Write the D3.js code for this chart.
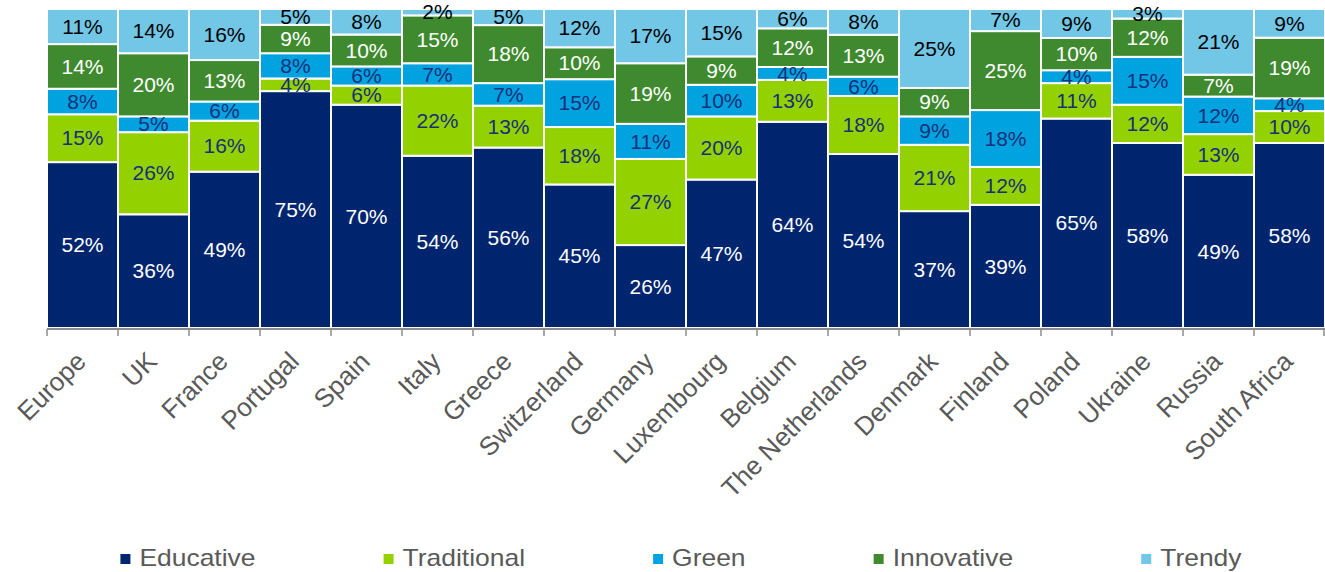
<!DOCTYPE html>
<html><head><meta charset="utf-8">
<script src="https://cdn.jsdelivr.net/npm/d3@7"></script>
<style>body{margin:0;background:#fff}svg{display:block;font-family:"Liberation Sans",Arial,sans-serif}</style>
</head><body><svg id="c" width="1325" height="572"></svg>
<script>
const categories = ["Europe","UK","France","Portugal","Spain","Italy","Greece","Switzerland","Germany","Luxembourg","Belgium","The Netherlands","Denmark","Finland","Poland","Ukraine","Russia","South Africa"];
const seriesNames = ["Educative","Traditional","Green","Innovative","Trendy"];
const educative   = [52,36,49,75,70,54,56,45,26,47,64,54,37,39,65,58,49,58];
const traditional = [15,26,16,4,6,22,13,18,27,20,13,18,21,12,11,12,13,10];
const green       = [8,5,6,8,6,7,7,15,11,10,4,6,9,18,4,15,12,4];
const innovative  = [14,20,13,9,10,15,18,10,19,9,12,13,9,25,10,12,7,19];
const trendy      = [11,14,16,5,8,2,5,12,17,15,6,8,25,7,9,3,21,9];
const colors      = ["#00256f","#94d100","#00a2df","#3f8a2f","#72c6e6"];
const labelColors = ["#ffffff","#16307a","#16307a","#ffffff","#000000"];

const seriesVals = [educative,traditional,green,innovative,trendy];
const rows = categories.map((c,i)=>{const o={cat:c}; seriesNames.forEach((s,j)=>o[s]=seriesVals[j][i]); return o;});
const stack = d3.stack().keys(seriesNames).offset(d3.stackOffsetExpand)(rows);

const svg = d3.select("#c");
const x = d3.scaleBand().domain(categories).range([47,1325]).padding(0);
const y = d3.scaleLinear().domain([0,1]).range([328,9]);
const SX = 1.15; // horizontal stretch seen in the reference legend text

const g = svg.append("g");
stack.forEach((layer,j)=>{
  g.append("g").selectAll("rect").data(layer).join("rect")
    .attr("x",d=>x(d.data.cat)).attr("width",x.bandwidth())
    .attr("y",d=>y(d[1])).attr("height",d=>y(d[0])-y(d[1]))
    .attr("fill",colors[j]).attr("stroke","#fff").attr("stroke-width",2);
});
stack.forEach((layer,j)=>{
  g.append("g").selectAll("text").data(layer).join("text")
    .attr("transform",d=>`translate(${x(d.data.cat)+x.bandwidth()/2},${(y(d[0])+y(d[1]))/2}) scale(1.05,1)`)
    .attr("dy","0.36em")
    .attr("text-anchor","middle")
    .attr("font-size",20)
    .attr("fill",labelColors[j])
    .text(d=>d.data[seriesNames[j]]+"%");
});

// axis
const ax = svg.append("g");
ax.append("line").attr("x1",x.range()[0]).attr("x2",x.range()[1]).attr("y1",329).attr("y2",329)
  .attr("stroke","#8c8c8c").attr("stroke-width",2);
const bounds = categories.map(c=>x(c)).concat([x.range()[1]-1]);
ax.selectAll("line.t").data(bounds).join("line").attr("class","t")
  .attr("x1",d=>d).attr("x2",d=>d).attr("y1",329).attr("y2",336)
  .attr("stroke","#8c8c8c").attr("stroke-width",1.5);
ax.selectAll("text").data(categories).join("text")
  .attr("transform",c=>`translate(${x(c)+x.bandwidth()/2+5},${363}) rotate(-45)`)
  .attr("text-anchor","end")
  .attr("font-size",26)
  .attr("fill","#595959")
  .text(c=>c);

// legend
const leg = svg.append("g");
let items = seriesNames.map((s,j)=>({s,j}));
const fs = 23, gap = 128, sq = 10, sqGap = 9;
const tmp = leg.append("text").attr("font-size",fs);
items.forEach(it=>{tmp.text(it.s); it.w = tmp.node().getComputedTextLength()*SX;});
tmp.remove();
const total = d3.sum(items,it=>sq+sqGap+it.w) + gap*(items.length-1);
let cx = 681 - total/2;
items.forEach(it=>{
  leg.append("rect").attr("x",cx).attr("y",554).attr("width",sq).attr("height",sq).attr("fill",colors[it.j]);
  leg.append("text").attr("transform",`translate(${cx+sq+sqGap},566) scale(${SX},1)`)
    .attr("font-size",fs).attr("fill","#595959").text(it.s);
  cx += sq+sqGap+it.w+gap;
});
</script></body></html>
